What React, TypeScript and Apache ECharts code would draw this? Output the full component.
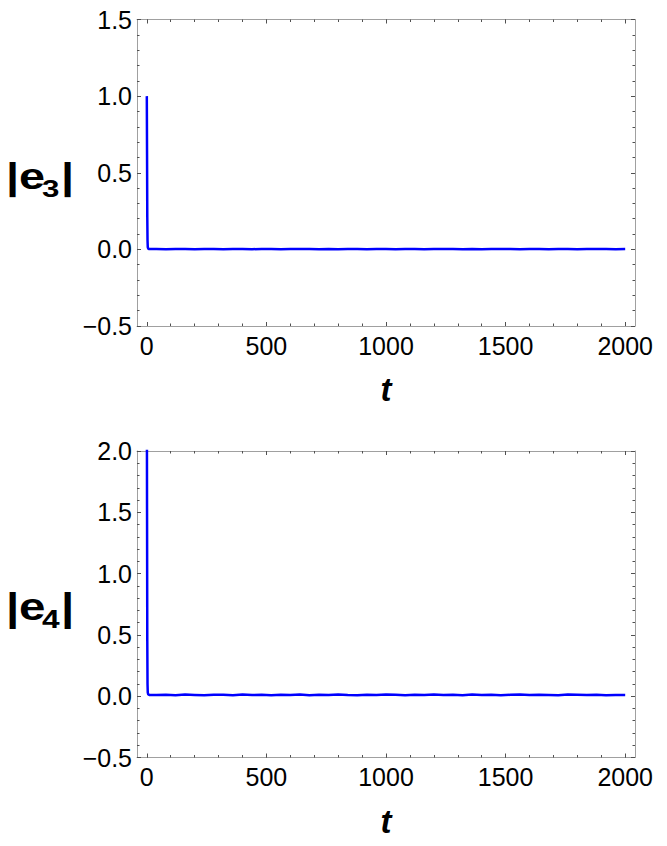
import React, { useEffect, useRef } from "react";
import * as echarts from "echarts";

const FONT = '"Liberation Sans", Arial, sans-serif';

// sample times
const tHead = [0, 1, 2, 3, 4, 6, 10];
const tTail = [
  40, 80, 120, 160, 200, 240, 280, 320, 360, 400,
  440, 480, 520, 560, 600, 640, 680, 720, 760, 800,
  840, 880, 920, 960, 1000, 1040, 1080, 1120, 1160, 1200,
  1240, 1280, 1320, 1360, 1400, 1440, 1480, 1520, 1560, 1600,
  1640, 1680, 1720, 1760, 1800, 1840, 1880, 1920, 1960, 2000,
];

// |e3|
const e3Head = [1.0, 0.62, 0.21, 0.06, 0.015, 0.004, 0.002];
const e3Tail = [
  0.002, 0.001, 0.003, 0.002, 0.001, 0.002, 0.003, 0.001, 0.002, 0.002,
  0.001, 0.003, 0.002, 0.001, 0.002, 0.002, 0.003, 0.001, 0.002, 0.001,
  0.002, 0.003, 0.001, 0.002, 0.002, 0.001, 0.003, 0.002, 0.001, 0.002,
  0.003, 0.002, 0.001, 0.002, 0.001, 0.003, 0.002, 0.002, 0.001, 0.002,
  0.002, 0.001, 0.003, 0.002, 0.001, 0.002, 0.003, 0.002, 0.001, 0.002,
];

// |e4|
const e4Head = [2.6, 1.5, 0.45, 0.1, 0.03, 0.014, 0.01];
const e4Tail = [
  0.009, 0.012, 0.008, 0.013, 0.010, 0.007, 0.012, 0.011, 0.008, 0.014,
  0.009, 0.011, 0.007, 0.012, 0.010, 0.013, 0.008, 0.011, 0.009, 0.014,
  0.010, 0.007, 0.012, 0.009, 0.013, 0.011, 0.008, 0.012, 0.010, 0.014,
  0.009, 0.011, 0.008, 0.013, 0.010, 0.012, 0.007, 0.011, 0.014, 0.009,
  0.012, 0.010, 0.008, 0.013, 0.011, 0.009, 0.012, 0.008, 0.010, 0.009,
];

const xMajorTicks = [0, 500, 1000, 1500, 2000];
const xMinorTicks = [
  0, 100, 200, 300, 400, 500, 600, 700, 800, 900, 1000,
  1100, 1200, 1300, 1400, 1500, 1600, 1700, 1800, 1900, 2000,
];
const xRange = [-41, 2041];
const y3Range = [-0.5, 1.5];
const y4Range = [-0.5, 2.0];

const FRAME = "#a0a0a0";
const TICK = "#505050";
const LABEL_SIZE = 25;

function fmtY(v: number) {
  const s = Math.abs(v).toFixed(1);
  return v < 0 ? "\u2212" + s : s;
}

function fmtX(v: number) {
  return String(v);
}

function xAxesFor(gi: number) {
  const base = {
    gridIndex: gi,
    type: "value",
    min: xRange[0],
    max: xRange[1],
    splitLine: { show: false },
  };
  const line = { show: true, onZero: false, lineStyle: { color: FRAME, width: 1 } };
  const noLine = { show: false, onZero: false };
  return [
    {
      ...base,
      position: "bottom",
      axisLine: line,
      axisTick: { show: true, inside: true, length: 4, customValues: xMajorTicks, lineStyle: { color: TICK } },
      axisLabel: { show: true, customValues: xMajorTicks, formatter: fmtX, fontSize: LABEL_SIZE, color: "#000", margin: 7, fontFamily: FONT },
    },
    {
      ...base,
      position: "bottom",
      axisLine: noLine,
      axisTick: { show: true, inside: true, length: 2.5, customValues: xMinorTicks, lineStyle: { color: TICK } },
      axisLabel: { show: false },
    },
    {
      ...base,
      position: "top",
      axisLine: line,
      axisTick: { show: true, inside: true, length: 4, customValues: xMajorTicks, lineStyle: { color: TICK } },
      axisLabel: { show: false },
    },
    {
      ...base,
      position: "top",
      axisLine: noLine,
      axisTick: { show: true, inside: true, length: 2.5, customValues: xMinorTicks, lineStyle: { color: TICK } },
      axisLabel: { show: false },
    },
  ];
}

function yAxesFor(gi: number, range: number[]) {
  const base = {
    gridIndex: gi,
    type: "value",
    min: range[0],
    max: range[1],
    interval: 0.5,
    splitLine: { show: false },
    axisLine: { show: true, onZero: false, lineStyle: { color: FRAME, width: 1 } },
    axisTick: { show: true, inside: true, length: 4, lineStyle: { color: TICK } },
    minorTick: { show: true, splitNumber: 5, length: 2.5, lineStyle: { color: TICK } },
  };
  return [
    {
      ...base,
      position: "left",
      axisLabel: { show: true, formatter: fmtY, fontSize: LABEL_SIZE, color: "#000", margin: 5, fontFamily: FONT },
    },
    { ...base, position: "right", axisLabel: { show: false } },
  ];
}

function buildData(ts: number[], vs: number[]) {
  return ts.map((t, i) => [t, vs[i]]);
}

// y-axis name "|e_k|" drawn as separate pieces (bold, with a subscript)
function labelGraphics(barBottom: number, sub: string, big: number, sx: number) {
  const small = big * 0.667;
  const baseline = barBottom - 0.21 * big;
  const mk = (text: string, x: number, size: number, base: number) => ({
    type: "text",
    x,
    y: base - 0.3465 * size,
    scaleX: sx,
    style: { text, x: 0, y: 0, fontSize: size, fontWeight: "bold", fontFamily: FONT, fill: "#000", verticalAlign: "middle" },
  });
  return [
    mk("|", 6, big, baseline),
    mk("e", 19, big, baseline),
    mk(sub, 42, small, baseline + 0.22 * big),
    mk("|", 61, big, baseline),
  ];
}

export default function App() {
  const ref = useRef<HTMLDivElement>(null);
  useEffect(() => {
    if (!ref.current) return;
    const chart = echarts.init(ref.current, null, { renderer: "svg" });
    const e3Data = buildData(tHead.concat(tTail), e3Head.concat(e3Tail));
    const e4Data = buildData(tHead.concat(tTail), e4Head.concat(e4Tail));
    const tStyle = { text: "t", fontSize: 33, fontWeight: "bold", fontStyle: "italic", fontFamily: FONT, fill: "#000", align: "center", verticalAlign: "middle" };
    const option: any = {
      animation: false,
      backgroundColor: "#fff",
      grid: [
        { left: 137, top: 19.5, width: 498, height: 306.5 },
        { left: 137, top: 451, width: 498, height: 306.5 },
      ],
      xAxis: [...xAxesFor(0), ...xAxesFor(1)],
      yAxis: [...yAxesFor(0, y3Range), ...yAxesFor(1, y4Range)],
      series: [
        {
          type: "line",
          xAxisIndex: 0,
          yAxisIndex: 0,
          data: e3Data,
          showSymbol: false,
          clip: true,
          lineStyle: { color: "#0000ff", width: 2.5 },
        },
        {
          type: "line",
          xAxisIndex: 4,
          yAxisIndex: 2,
          data: e4Data,
          showSymbol: false,
          clip: true,
          lineStyle: { color: "#0000ff", width: 2.5 },
        },
      ],
      graphic: [
        ...labelGraphics(197, "3", 36, 1.3),
        ...labelGraphics(628, "4", 38, 1.25),
        { type: "text", x: 386, y: 401 - 0.3465 * 33, style: tStyle },
        { type: "text", x: 386, y: 833 - 0.3465 * 33, style: tStyle },
      ],
    };
    chart.setOption(option);
    return () => chart.dispose();
  }, []);
  return <div ref={ref} style={{ position: "absolute", left: 0, top: 0, width: 667, height: 846 }} />;
}
